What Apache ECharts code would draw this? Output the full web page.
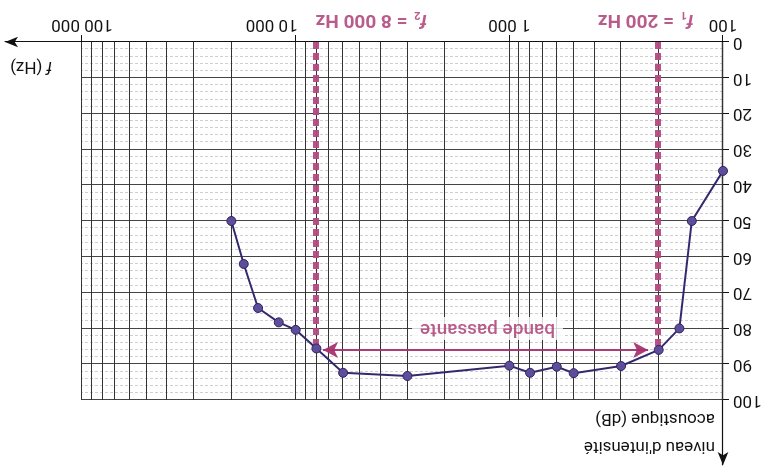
<!DOCTYPE html>
<html>
<head>
<meta charset="utf-8">
<script src="https://cdn.jsdelivr.net/npm/echarts@6/dist/echarts.min.js"></script>
<style>
  html, body { margin: 0; padding: 0; background: #fff; }
  /* la figure d'origine est photographiée à l'envers */
  #chart { width: 766px; height: 473px; transform: rotate(180deg); }
</style>
</head>
<body>
<div id="chart"></div>
<script>
var freqs = [100, 140, 160, 200, 300, 500, 600, 800, 1000, 3000, 6000, 8000, 10000, 12000, 15000, 17500, 20000];
var levels = [36, 50, 80, 86, 90.5, 92.5, 90.7, 92.4, 90.4, 93.3, 92.4, 85.6, 80.4, 78.3, 74.3, 62, 50];

// lignes verticales du papier log
var gridFreqs = [];
[100, 1000, 10000].forEach(function (d) {
	for (var k = 1; k < 10; k++) gridFreqs.push(k * d);
});
gridFreqs.push(100000);

var cutoffs = [200, 8000];
var cutoffLevels = [86, 85.6];
var bandArrow = [224, 7450];   // pointes de la flèche
var bandLevel = 86;
var bandLabelPos = [1265, 80];
var tickText = { 100: '100', 1000: '1 000', 10000: '10 000', 100000: '100 000' };

var magenta = '#a8336e';
var font = 'Roboto, "Liberation Sans", sans-serif';

var points = freqs.map(function (f, i) { return [f, levels[i]]; });

var chart = echarts.init(document.getElementById('chart'));

var subRich = {
	i: { fontStyle: 'italic', fontWeight: 'bold', fontSize: 19, color: magenta },
	s: { fontSize: 11, fontWeight: 'bold', color: magenta, padding: [10, 2, 0, 0] },
	n: { fontSize: 19, fontWeight: 'bold', color: magenta }
};

chart.setOption({
	animation: false,
	textStyle: { fontFamily: font },
	grid: [
		{ left: 43, right: 82, top: 73, bottom: 42 },
		{ left: 43, right: 5, top: 8, bottom: 42 }
	],
	xAxis: [
		{
			type: 'log',
			logBase: 10,
			min: 100,
			max: 100000,
			gridIndex: 0,
			splitLine: { show: false },
			axisLine: { show: true, lineStyle: { color: '#111', width: 1.2 } },
			axisTick: { show: true, length: 7, lineStyle: { color: '#111' } },
			axisLabel: {
				color: '#111',
				fontSize: 17,
				margin: 9,
				formatter: function (v) {
					if (v === 10000) return '{r|' + tickText[v] + '}';
					return tickText[v] || '';
				},
				rich: { r: { fontSize: 17, color: '#111', padding: [0, 0, 0, 48] } }
			}
		},
		{
			type: 'value',
			gridIndex: 1,
			min: 0,
			max: 1,
			axisLine: { show: true, symbol: ['none', 'arrow'], symbolSize: [8, 13], lineStyle: { color: '#111', width: 1.2 } },
			axisTick: { show: false },
			axisLabel: { show: false },
			splitLine: { show: false },
			name: '{i|f} (Hz)',
			nameLocation: 'end',
			nameGap: -5,
			nameTextStyle: {
				align: 'right',
				verticalAlign: 'bottom',
				fontSize: 17,
				color: '#111',
				padding: [0, 0, 16, 0],
				rich: { i: { fontStyle: 'italic', fontSize: 17, color: '#111' } }
			}
		}
	],
	yAxis: [
		{
			type: 'value',
			gridIndex: 0,
			min: 0,
			max: 100,
			interval: 10,
			axisLine: { show: true, lineStyle: { color: '#111', width: 1.2 } },
			axisTick: { show: true, length: 6, lineStyle: { color: '#111' } },
			axisLabel: { color: '#111', fontSize: 17, margin: 10 },
			splitLine: { show: true, lineStyle: { color: '#444', width: 1 } },
			minorTick: { show: false, splitNumber: 5 },
			minorSplitLine: { show: true, lineStyle: { color: '#cfcfcf', width: 1, type: [3, 2] } }
		},
		{
			type: 'value',
			gridIndex: 1,
			min: 0,
			max: 1,
			axisLine: { show: true, symbol: ['none', 'arrow'], symbolSize: [8, 13], lineStyle: { color: '#111', width: 1.2 } },
			axisTick: { show: false },
			axisLabel: { show: false },
			splitLine: { show: false },
			name: "niveau d'intensité\nacoustique (dB)",
			nameLocation: 'end',
			nameGap: -5,
			nameTextStyle: {
				align: 'left',
				verticalAlign: 'top',
				fontSize: 17,
				lineHeight: 28,
				color: '#111',
				padding: [0, 0, 0, 8]
			}
		}
	],
	series: [
		{
			// quadrillage vertical
			type: 'line',
			xAxisIndex: 0,
			yAxisIndex: 0,
			data: [],
			z: 1,
			markLine: {
				silent: true,
				symbol: 'none',
				animation: false,
				label: { show: false },
				lineStyle: { color: '#333', width: 1, type: 'solid' },
				data: gridFreqs.map(function (f) { return { xAxis: f }; })
			}
		},
		{
			// fréquences de coupure + bande passante
			type: 'line',
			xAxisIndex: 0,
			yAxisIndex: 0,
			data: [],
			z: 3,
			markLine: {
				silent: true,
				symbol: 'none',
				animation: false,
				label: { show: false },
				lineStyle: { color: '#b34a80', width: 6, type: [7, 4], opacity: 0.95 },
				data: cutoffs.map(function (f, i) {
					return [{ coord: [f, 0] }, { coord: [f, cutoffLevels[i]] }];
				}).concat([[
					{ coord: [bandArrow[0], bandLevel], symbol: 'arrow', symbolSize: [12, 15], lineStyle: { color: magenta, width: 2, type: 'solid' } },
					{ coord: [bandArrow[1], bandLevel], symbol: 'arrow', symbolSize: [12, 15] }
				]])
			}
		},
		{
			name: 'niveau',
			type: 'line',
			xAxisIndex: 0,
			yAxisIndex: 0,
			data: points,
			z: 5,
			symbol: 'circle',
			symbolSize: 9,
			lineStyle: { color: '#35286e', width: 2 },
			itemStyle: { color: '#5d4d9b', borderColor: '#2f2460', borderWidth: 1 }
		},
		{
			// textes
			type: 'scatter',
			xAxisIndex: 0,
			yAxisIndex: 0,
			clip: false,
			z: 6,
			symbolSize: 1,
			itemStyle: { color: 'rgba(0,0,0,0)' },
			silent: true,
			data: [
				{
					value: bandLabelPos,
					label: {
						show: true, position: 'inside', formatter: 'bande passante',
						fontSize: 19, fontWeight: 500, color: magenta, backgroundColor: '#fff', padding: [2, 8]
					}
				},
				{
					value: [cutoffs[0], 0],
					label: {
						show: true, position: 'inside', offset: [13, 22],
						formatter: '{i|f}{s|1}{n| = 200 Hz}',
						rich: subRich
					}
				},
				{
					value: [cutoffs[1], 0],
					label: {
						show: true, position: 'inside', offset: [-55, 22],
						formatter: '{i|f}{s|2}{n| = 8 000 Hz}',
						rich: subRich
					}
				}
			]
		}
	]
});
</script>
</body>
</html>
